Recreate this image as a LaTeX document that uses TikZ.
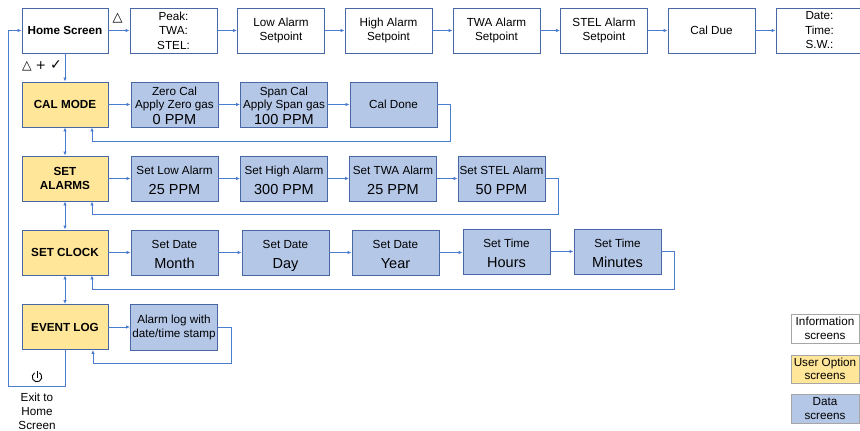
\documentclass[tikz,border=0pt]{standalone}
\usepackage{fontspec}
\setmainfont{Liberation Sans}
\newfontfamily\symf{DejaVu Sans}
\usetikzlibrary{arrows.meta}
\definecolor{lineblue}{HTML}{4A7CD0}
\definecolor{boxblue}{HTML}{4767A5}
\definecolor{datafill}{HTML}{B4C7E7}
\definecolor{optfill}{HTML}{FFE699}
\definecolor{leggray}{HTML}{A6A6A6}
\newcommand\twoline[2]{\rule{0pt}{12pt}#1\\[5.5pt]\smash{\fontsize{14.5}{15}\selectfont #2}}
\begin{document}
\begin{tikzpicture}[x=1pt,y=-1pt,
 scr/.style={draw=boxblue, line width=0.9pt, minimum width=87pt, minimum height=45pt, inner sep=0pt, align=center, font=\fontsize{11.7}{14}\selectfont},
 info/.style={scr, fill=white},
 opt/.style={scr, fill=optfill, minimum width=86pt, font=\fontsize{11.7}{14}\selectfont\bfseries},
 data/.style={scr, fill=datafill},
 conn/.style={draw=lineblue, line width=0.9pt, -{Latex[length=4pt,width=3.5pt]}},
 both/.style={draw=lineblue, line width=0.9pt, {Latex[length=4pt,width=3.5pt]}-{Latex[length=4pt,width=3.5pt]}},
 leg/.style={draw=leggray, line width=0.9pt, minimum width=68pt, minimum height=29pt, inner sep=0pt, align=center, font=\fontsize{11.7}{13.5}\selectfont},
 lbl/.style={inner sep=0pt, font=\fontsize{11.7}{14}\selectfont, align=center}]
\useasboundingbox (0,0) rectangle (860,431);
\clip (0,0) rectangle (860,431);

% top row
\node[info, font=\fontsize{11.7}{14}\selectfont\bfseries, minimum width=86pt] (home) at (65,30.5) {Home Screen};
\node[info] (peak) at (173.5,30.5) {Peak:\\[0.5pt]TWA:\\[0.5pt]STEL:};
\node[info] (low) at (281,30.5) {Low Alarm\\Setpoint};
\node[info] (high) at (388.5,30.5) {High Alarm\\Setpoint};
\node[info] (twa) at (496.5,30.5) {TWA Alarm\\Setpoint};
\node[info] (stel) at (604,30.5) {STEL Alarm\\Setpoint};
\node[info] (caldue) at (711.5,30.5) {Cal Due};
\node[info] (date) at (819.5,30.5) {Date:\\[0.5pt]Time:\\[0.5pt]S.W.:};

% row 2
\node[opt] (calmode) at (65,104.5) {CAL MODE};
\node[data] (zero) at (174.5,105) {\rule{0pt}{10pt}Zero Cal\\[-0.5pt]Apply Zero gas\\[1.5pt]{\fontsize{14.5}{15}\selectfont 0 PPM}};
\node[data] (span) at (284,105) {\rule{0pt}{10pt}Span Cal\\[-0.5pt]Apply Span gas\\[1.5pt]{\fontsize{14.5}{15}\selectfont 100 PPM}};
\node[data] (caldone) at (393.5,104.5) {Cal Done};

% row 3
\node[opt] (setalarms) at (65,178.5) {SET\\ALARMS};
\node[data] (slow) at (174.5,178.5) {\twoline{Set Low Alarm}{25 PPM}};
\node[data] (shigh) at (284,178.5) {\twoline{Set High Alarm}{300 PPM}};
\node[data] (stwa) at (393,178.5) {\twoline{Set TWA Alarm}{25 PPM}};
\node[data] (sstel) at (501.5,178.5) {\twoline{Set STEL Alarm}{50 PPM}};

% row 4
\node[opt] (setclock) at (65,252.5) {SET CLOCK};
\node[data] (month) at (174.5,252.5) {\twoline{Set Date}{Month}};
\node[data] (day) at (285.5,252.5) {\twoline{Set Date}{Day}};
\node[data] (year) at (395.5,252.5) {\twoline{Set Date}{Year}};
\node[data] (hours) at (506.5,251.5) {\twoline{Set Time}{Hours}};
\node[data] (minutes) at (617.5,251.5) {\twoline{Set Time}{Minutes}};

% row 5
\node[opt] (eventlog) at (65,327) {EVENT LOG};
\node[data, minimum height=46pt] (alarmlog) at (174,327) {Alarm log with\\date/time stamp};

% top row connectors
\draw[conn] (home) -- (peak);
\draw[conn] (peak) -- (low);
\draw[conn] (low) -- (high);
\draw[conn] (high) -- (twa);
\draw[conn] (twa) -- (stel);
\draw[conn] (stel) -- (caldue);
\draw[conn] (caldue) -- (date);

% vertical
\draw[conn] (home.south) -- (calmode.north);
\draw[both] (calmode.south) -- (setalarms.north);
\draw[both] (setalarms.south) -- (setclock.north);
\draw[both] (setclock.south) -- (eventlog.north);

% row connectors
\draw[conn] (calmode) -- (zero.west |- calmode.east);
\draw[conn] (zero.east |- calmode.east) -- (span.west |- calmode.east);
\draw[conn] (span.east |- calmode.east) -- (caldone.west);
\draw[conn] (setalarms) -- (slow);
\draw[conn] (slow) -- (shigh);
\draw[conn] (shigh) -- (stwa);
\draw[conn] (stwa) -- (sstel);
\draw[conn] (setclock) -- (month);
\draw[conn] (month) -- (day);
\draw[conn] (day) -- (year);
\draw[conn] (year.east) -- (hours.west |- year.east);
\draw[conn] (hours) -- (minutes);
\draw[conn] (eventlog) -- (alarmlog);

% return loops
\coordinate (r2) at (450,141);
\coordinate (r3) at (558,214);
\coordinate (r4) at (674,289);
\coordinate (r5) at (231,363);
\draw[conn] (caldone.east) -| (r2) -| ([xshift=27pt]calmode.south);
\draw[conn] (sstel.east) -| (r3) -| ([xshift=27pt]setalarms.south);
\draw[conn] (minutes.east) -| (r4) -| ([xshift=27pt]setclock.south);
\draw[conn] (alarmlog.east) -| (r5) -| ([xshift=28pt]eventlog.south);

% exit loop
\coordinate (ex) at (8,386);
\draw[conn] (eventlog.south) |- (ex) |- (home.west);

% symbols
\node[inner sep=0pt, font=\symf\fontsize{13}{13}\selectfont] (tri1) at (117.5,18) {△};
\node[inner sep=0pt, font=\symf\fontsize{12.5}{12.5}\selectfont] (keys) at (42,66) {△ + {\fontsize{14}{14}\selectfont ✓}};
\draw[black, line width=0.9pt] (37,377) ++(120:4.8pt) arc[start angle=120, end angle=420, radius=4.8pt];
\draw[black, line width=0.9pt] (37,370.5) -- (37,377.5);
\node[lbl] (exit) at (37,411) {Exit to\\Home\\Screen};

% legend
\node[leg] (leginfo) at (825,328.5) {Information\\screens};
\node[leg, fill=optfill, minimum height=28pt] (legopt) at (825,369) {User Option\\screens};
\node[leg, fill=datafill] (legdata) at (825,408.5) {Data\\screens};
\end{tikzpicture}
\end{document}
